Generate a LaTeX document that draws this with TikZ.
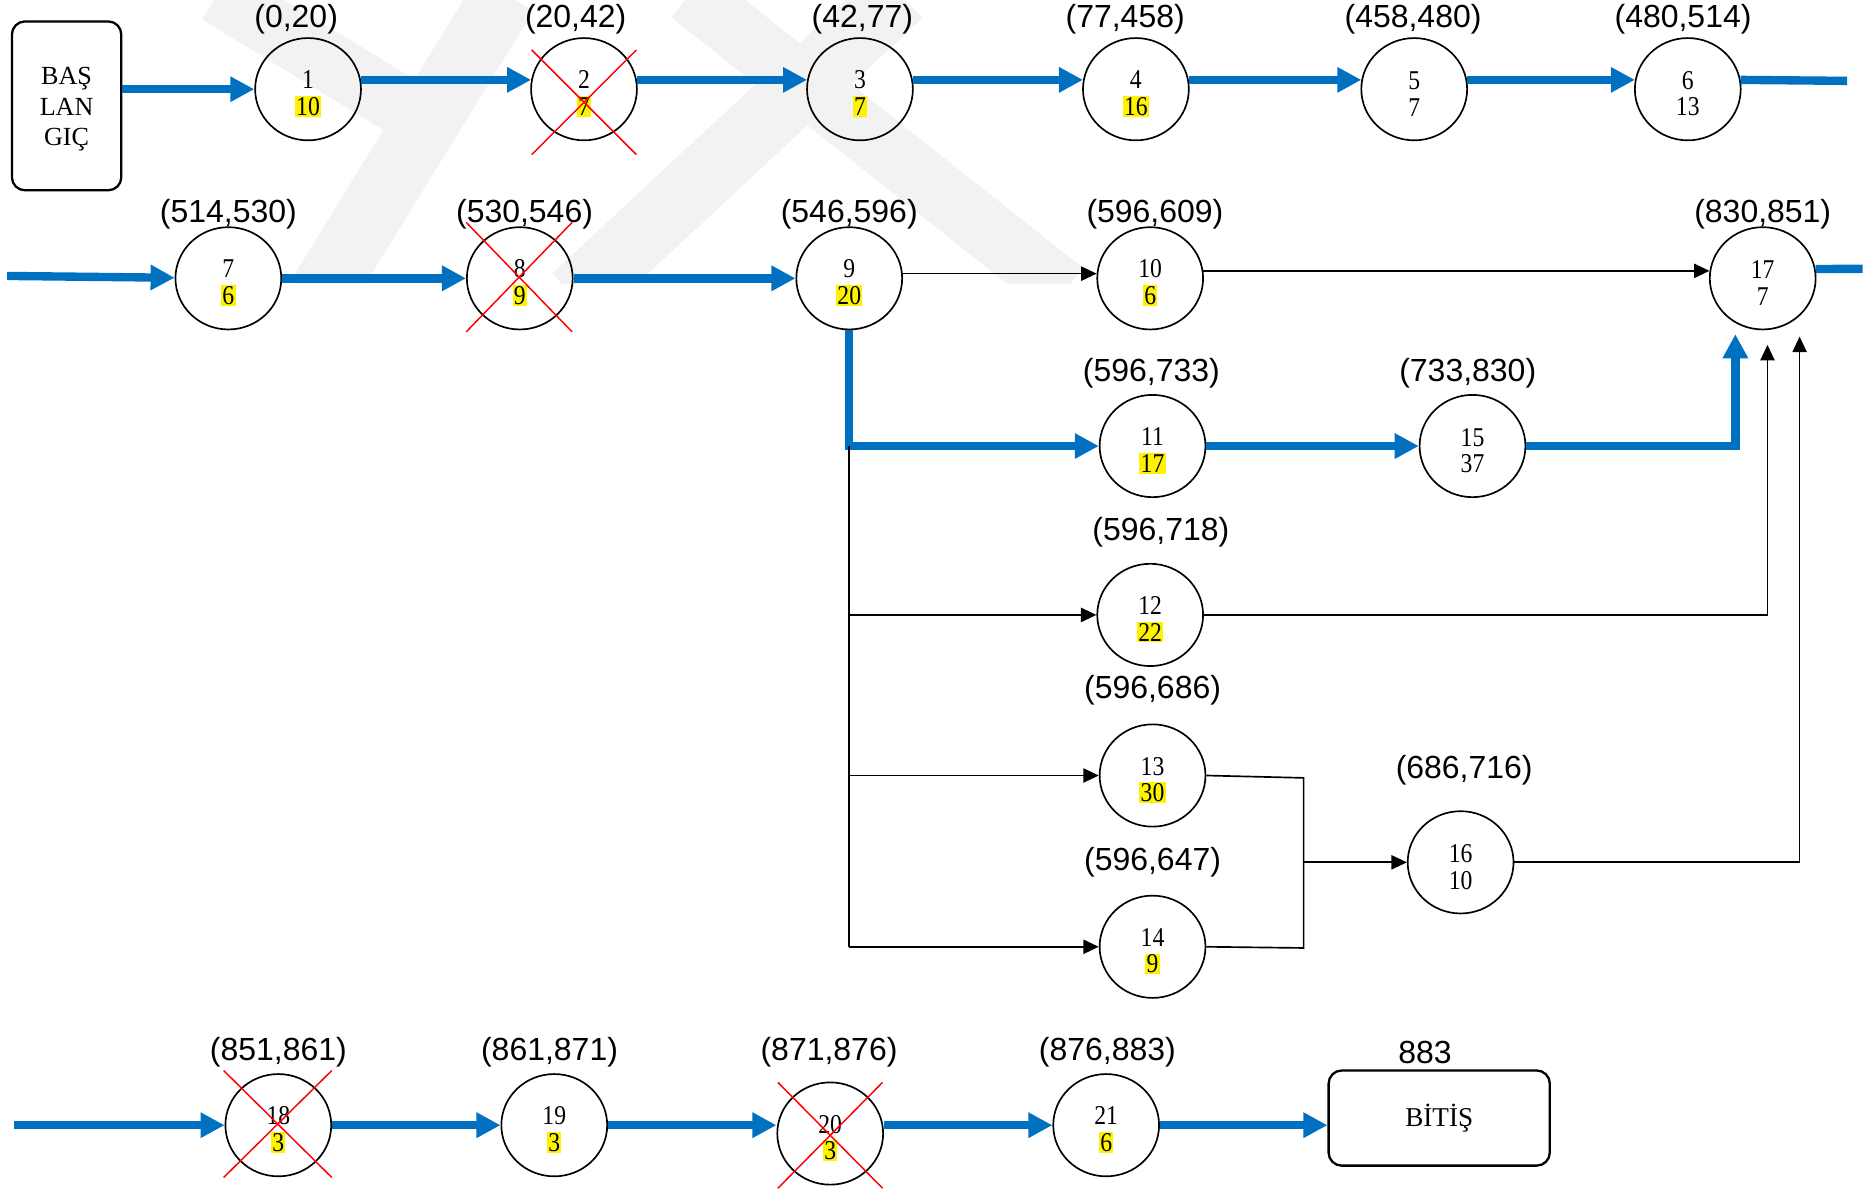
\documentclass[tikz,border=0pt]{standalone}
\usepackage{fontspec}
\setmainfont{Liberation Serif}
\setsansfont{Liberation Sans}
\newfontfamily\evfont[FakeStretch=0.87]{Liberation Serif}
\usetikzlibrary{shapes.geometric,arrows.meta}

\definecolor{critblue}{RGB}{0,112,192}
\newcommand{\hl}[1]{{\setlength{\fboxsep}{0.6pt}\colorbox{yellow}{#1}}}

\begin{document}
\begin{tikzpicture}[x=0.02cm,y=-0.02cm,
    event/.style={ellipse,draw,line width=0.8pt,minimum width=1.78cm,minimum height=1.72cm,inner sep=0pt,align=center,font=\evfont\fontsize{13}{12.7}\selectfont},
    endbox/.style={draw,line width=1.1pt,rounded corners=0.22cm,align=center,font=\fontsize{12.5}{14.5}\selectfont},
    lbl/.style={font=\sffamily\fontsize{15.3}{18}\selectfont,inner sep=0pt,yshift=-0.05cm},
    crit/.style={critblue,line width=4pt,-{Triangle[length=11.5pt,width=11.5pt]}},
    crit line/.style={critblue,line width=4pt},
    link/.style={line width=0.8pt,-{Triangle[length=7.4pt,width=6.8pt]}},
    link line/.style={line width=0.8pt},
    xout/.style={red,line width=0.7pt}]
    \useasboundingbox (0,0) rectangle (1568,1000);

    % Watermark in the background
    \begin{scope}
        \clip (0,0) rectangle (1568,238);
        \draw[black!5,line width=1cm] (183,-5) -- (355,100);
        \draw[black!5,line width=1.1cm] (425,-5) -- (268,250);
        \draw[black!5,line width=1cm] (580,-5) -- (895,245);
        \draw[black!5,line width=1.1cm] (757,-5) -- (483,250);
    \end{scope}

    % Start and end boxes
    \node[endbox,minimum width=1.84cm,minimum height=2.84cm] (start) at (56,89) {\rule{0pt}{11.7pt}BAŞ\\LAN\\GIÇ};
    \node[endbox,minimum width=3.72cm,minimum height=1.6cm,font=\fontsize{13}{15}\selectfont] (finish) at (1210,940) {BİTİŞ};

    % Activity nodes
    \foreach \n/\x/\y/\lo in {1/259/75/\hl{10}, 2/491/75/\hl{7}, 3/723/75/\hl{7}, 4/955/75/\hl{16},
        5/1189/75/7, 6/1419/75/13, 7/192/234/\hl{6}, 8/437/234/\hl{9}, 9/714/234/\hl{20},
        10/967/234/\hl{6}, 17/1482/234/7, 11/969/375/\hl{17}, 15/1238/375/37,
        12/967/517/\hl{22}, 13/969/652/\hl{30}, 14/969/796/\hl{9}, 16/1228/725/10,
        18/234/946/\hl{3}, 19/466/946/\hl{3}, 20/698/953/\hl{3}, 21/930/946/\hl{6}}
        \node[event] (n\n) at (\x,\y) {\rule{0pt}{13pt}\n\\\lo};

    % Time labels
    \foreach \x/\y/\t [count=\i] in {249/14/{(0,20)}, 484/14/{(20,42)}, 725/14/{(42,77)},
        946/14/{(77,458)}, 1188/14/{(458,480)}, 1415/14/{(480,514)},
        192/178/{(514,530)}, 441/178/{(530,546)}, 714/178/{(546,596)},
        971/178/{(596,609)}, 1482/178/{(830,851)}, 968/311/{(596,733)},
        1234/311/{(733,830)}, 976/445/{(596,718)}, 969/578/{(596,686)},
        969/722/{(596,647)}, 1231/645/{(686,716)}, 234/882/{(851,861)},
        462/882/{(861,871)}, 697/882/{(871,876)}, 931/882/{(876,883)}, 1198/882/{883}}
        \node[lbl] (lab\i) at (\x,\y) {\t};

    % Free ends and joints
    \coordinate (out6) at (1553,68);
    \coordinate (in7) at (6,232);
    \coordinate (out17) at (1566,226);
    \coordinate (in17a) at (1459,281);
    \coordinate (in17b) at (1486,290);
    \coordinate (in17c) at (1513,283);
    \coordinate (j13) at (1096,654);
    \coordinate (j14) at (1096,797);
    \coordinate (in18) at (12,946);

    % Critical path
    \draw[crit] (start.east |- n1) -- (n1);
    \foreach \a/\b in {1/2,2/3,3/4,4/5,5/6}
        \draw[crit] (n\a.10) -- (n\b.170);
    \draw[crit line] (n6.10) -- (out6);
    \draw[crit] (in7) -- (n7);
    \draw[crit] (n7) -- (n8);
    \draw[crit] (n8) -- (n9);
    \draw[crit] (n9.south) |- (n11);
    \draw[crit] (n11) -- (n15);
    \draw[crit] (n15) -| (in17a);
    \draw[crit line] (n17.10) -- (out17);
    \draw[crit] (in18) -- (n18);
    \draw[crit] (n18) -- (n19);
    \draw[crit] (n19) -- (n19 -| n20.west);
    \draw[crit] (n21 -| n20.east) -- (n21);
    \draw[crit] (n21) -- (n21 -| finish.west);

    % Other links
    \draw[link] (n9.5) -- (n10.175);
    \draw[link] (n10.8) -- (n17.172);
    \draw[link line] (n9.south |- n11) -- (n9.south |- n14);
    \foreach \m in {12,13,14}
        \draw[link] (n9.south |- n\m) -- (n\m);
    \draw[link] (n12) -| (in17b);
    \draw[link line] (n13.east) -- (j13) -- (j14) -- (n14.east);
    \draw[link] (j13 |- n16) -- (n16);
    \draw[link] (n16) -| (in17c);

    % Crossed out nodes
    \foreach \n/\ax/\ay/\bx/\by in {2/44/33/44/55, 8/45/47/44/45, 18/46/46/45/44, 20/44/43/44/46} {
        \draw[xout] ([shift={(-\ax,-\ay)}]n\n.center) -- ([shift={(\bx,\by)}]n\n.center);
        \draw[xout] ([shift={(\bx,-\ay)}]n\n.center) -- ([shift={(-\ax,\by)}]n\n.center);
    }
\end{tikzpicture}
\end{document}
